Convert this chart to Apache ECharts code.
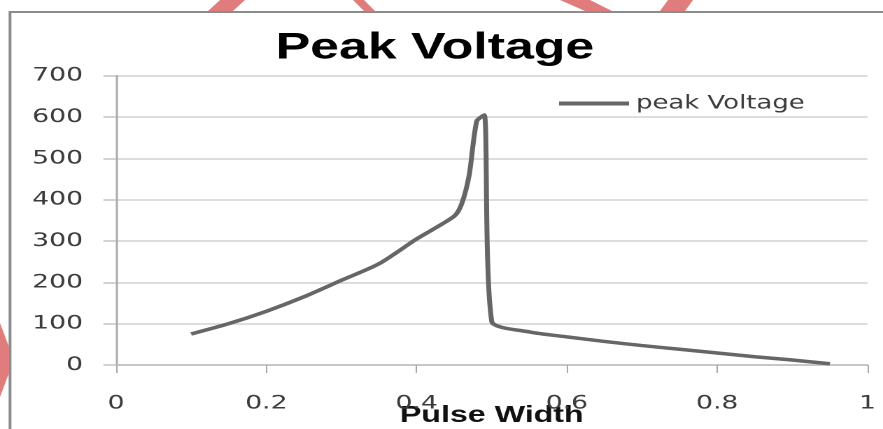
<!DOCTYPE html>
<html>
<head>
<meta charset="utf-8">
<title>Peak Voltage</title>
<script src="https://cdn.jsdelivr.net/npm/echarts@6.0.0/dist/echarts.min.js"></script>
<style>
    html, body { margin: 0; padding: 0; background: #fff; overflow: hidden; }
    /* the original picture is stretched sideways, so draw narrow and stretch the box */
    #chart { width: 631px; height: 429px; transform: scaleX(1.3994); transform-origin: 0 0; }
</style>
</head>
<body>
<div id="chart"></div>
<script>
// data
var pulseWidth = [0.1, 0.15, 0.2, 0.25, 0.3, 0.35, 0.4, 0.45, 0.46, 0.47, 0.48, 0.49, 0.5,
    0.55, 0.6, 0.65, 0.7, 0.75, 0.8, 0.85, 0.9, 0.95];
var peakVoltage = [75, 100, 130, 165, 205, 245, 305, 360, 390, 460, 590, 605, 105,
    80, 68, 57, 47, 38, 29, 20, 12, 3];
var xTicks = [0, 0.2, 0.4, 0.6, 0.8, 1];
var yTicks = [0, 100, 200, 300, 400, 500, 600, 700];

(function() {
    var S = 1.3994; // horizontal stretch of the page
    var myChart = echarts.init(document.getElementById('chart'), null, { devicePixelRatio: 2 });

    var points = pulseWidth.map(function(x, i) { return [x, peakVoltage[i]]; });

    // red bits of the page around the frame (reference pixels, divided by the stretch)
    function poly(pts) {
        return {
            type: 'polygon',
            silent: true,
            shape: { points: pts.map(function(p) { return [p[0] / S, p[1]]; }) },
            style: { fill: '#e07c7c', stroke: null }
        };
    }

    var option = {
        animation: false,
        backgroundColor: '#fff',
        title: {
            text: 'Peak Voltage',
            left: 192,
            top: 25,
            textStyle: {
                fontFamily: 'Liberation Sans',
                fontWeight: 'bold',
                fontSize: 37,
                color: '#000'
            }
        },
        legend: {
            left: 394.5,
            top: 89,
            icon: 'rect',
            itemWidth: 50,
            itemHeight: 4,
            textStyle: { fontFamily: 'DejaVu Sans', fontSize: 18.5, color: '#3c3c3c' },
            data: ['peak Voltage']
        },
        grid: {
            left: 82.9,
            right: 11.1,
            top: 75.7,
            bottom: 64,
            outerBoundsMode: 'none'
        },
        xAxis: {
            type: 'value',
            min: xTicks[0],
            max: xTicks[xTicks.length - 1],
            interval: 0.2,
            name: 'Pulse Width',
            nameLocation: 'middle',
            nameGap: 39,
            nameMoveOverlap: false,
            nameTextStyle: {
                fontFamily: 'Liberation Sans',
                fontWeight: 'bold',
                fontSize: 23,
                color: '#111',
                verticalAlign: 'top'
            },
            axisLine: { show: true, lineStyle: { color: '#bcbcbc', width: 1.5 } },
            axisTick: { show: true, length: 8, lineStyle: { color: '#a8a8a8', width: 1 } },
            axisLabel: {
                margin: 29,
                fontFamily: 'DejaVu Sans',
                fontSize: 19,
                color: '#3c3c3c',
                showMinLabel: true,
                showMaxLabel: true
            },
            splitLine: { show: false }
        },
        yAxis: {
            type: 'value',
            min: yTicks[0],
            max: yTicks[yTicks.length - 1],
            interval: 100,
            axisLine: { show: true, lineStyle: { color: '#a8a8a8', width: 1.4 } },
            axisTick: { show: true, length: 9, lineStyle: { color: '#c4c4c4', width: 1.5 } },
            axisLabel: {
                margin: 23.6,
                fontFamily: 'DejaVu Sans',
                fontSize: 19,
                color: '#3c3c3c'
            },
            splitLine: { show: true, lineStyle: { color: '#d2d2d2', width: 1.6 } }
        },
        series: [{
            name: 'peak Voltage',
            type: 'line',
            data: points,
            smooth: 0.25,
            symbol: 'none',
            color: '#666666',
            lineStyle: { color: '#666666', width: 3.5 }
        }],
        graphic: [
            // frame of the chart picture
            {
                type: 'rect',
                silent: true,
                shape: { x: 10 / S, y: 12, width: 800, height: 600 },
                style: { fill: 'none', stroke: '#8c8c8c', lineWidth: 2 }
            },
            poly([[208, 11], [233, 11], [245, 0], [220, 0]]),
            poly([[353, 0], [364, 0], [375, 11], [364, 11]]),
            poly([[560, 0], [590, 0], [612, 11], [585, 11]]),
            poly([[660, 11], [685, 11], [693, 0], [668, 0]]),
            poly([[0, 323], [9, 347], [9, 373], [0, 397]])
        ]
    };

    myChart.setOption(option);
})();
</script>
</body>
</html>
